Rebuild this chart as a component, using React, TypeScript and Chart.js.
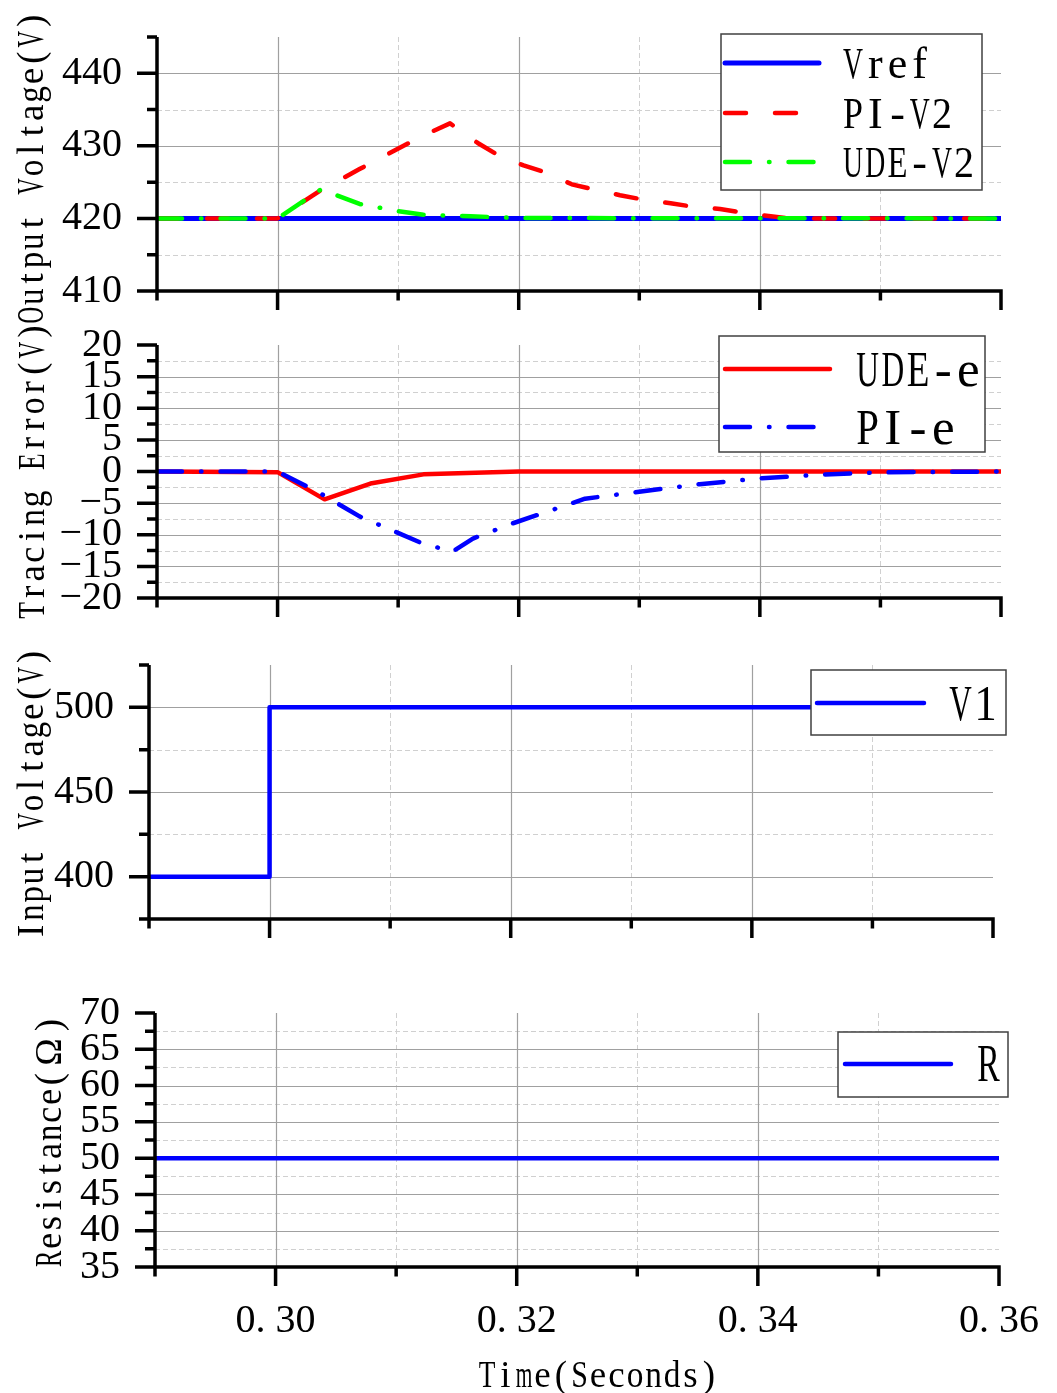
import React, { useEffect, useRef } from "react";
import { Chart, registerables } from "chart.js";

Chart.register(...registerables);

const W = 1057;
const H = 1393;

// ---------- shared time axis ----------
const xMin = 0.29;
const xMax = 0.36;
const xMajorTicks = [0.3, 0.32, 0.34, 0.36];
const xMinorTicks = [0.29, 0.31, 0.33, 0.35];
const xTickLabels = ["0. 30", "0. 32", "0. 34", "0. 36"];
const xTitle = "Time(Seconds)";

// ---------- panel 1: output voltage ----------
const vrefTime = [0.29, 0.36];
const vrefValues = [420, 420];
const piV2Time = [0.29, 0.3, 0.3035, 0.3068, 0.3118, 0.3143, 0.3166, 0.3183, 0.3204, 0.3223, 0.3244, 0.3262, 0.3284, 0.3303, 0.3326, 0.3345, 0.3367, 0.3386, 0.3409, 0.3425, 0.36];
const piV2Values = [420, 420, 423.8, 426.8, 431.2, 433.1, 430.4, 428.7, 427.3, 426.3, 424.7, 424.0, 423.2, 422.6, 422.1, 421.6, 421.3, 420.8, 420.3, 420.0, 420];
const udeV2Time = [0.29, 0.3, 0.3036, 0.3068, 0.31, 0.3121, 0.316, 0.32, 0.36];
const udeV2Values = [420, 420, 424.0, 422.0, 421.0, 420.5, 420.3, 420.05, 420];
const outMajorTicks = [410, 420, 430, 440];
const outMinorTicks = [415, 425, 435, 445];
const outTickLabels = ["410", "420", "430", "440"];

// ---------- panel 2: tracing error ----------
const udeETime = [0.29, 0.3, 0.3039, 0.3077, 0.3121, 0.32, 0.36];
const udeEValues = [0, -0.1, -4.4, -1.9, -0.45, 0, 0];
const piETime = [0.29, 0.3, 0.3035, 0.3068, 0.3118, 0.3145, 0.3162, 0.3195, 0.3229, 0.3255, 0.33, 0.335, 0.34, 0.345, 0.35, 0.355, 0.36];
const piEValues = [0, 0, -3.4, -7.1, -11.2, -12.7, -10.6, -8.2, -6.0, -4.3, -3.2, -2.0, -1.1, -0.5, -0.15, -0.05, 0];
const errMajorTicks = [-20, -15, -10, -5, 0, 5, 10, 15, 20];
const errMinorTicks = [-17.5, -12.5, -7.5, -2.5, 2.5, 7.5, 12.5, 17.5];
const errTickLabels = ["\u221220", "\u221215", "\u221210", "\u22125", "0", "5", "10", "15", "20"];

// ---------- panel 3: input voltage ----------
const v1Time = [0.29, 0.3, 0.3, 0.36];
const v1Values = [400, 400, 500, 500];
const inMajorTicks = [400, 450, 500];
const inMinorTicks = [375, 425, 475, 525];
const inTickLabels = ["400", "450", "500"];

// ---------- panel 4: resistance ----------
const rTime = [0.29, 0.36];
const rValues = [50, 50];
const resMajorTicks = [35, 40, 45, 50, 55, 60, 65, 70];
const resMinorTicks = [37.5, 42.5, 47.5, 52.5, 57.5, 62.5, 67.5];
const resTickLabels = ["35", "40", "45", "50", "55", "60", "65", "70"];

const BLUE = "#0000ff";
const RED = "#ff0000";
const GREEN = "#00ff00";
const DASH = [21, 29];
const DASHDOT = [25, 19, 0.5, 19];

type Series = {
  label: string;
  time: number[];
  values: number[];
  color: string;
  dash: number[];
  width: number;
  order: number;
};

type PanelSpec = {
  area: { left: number; top: number; right: number; bottom: number };
  yMin: number;
  yMax: number;
  yMajor: number[];
  yMinor: number[];
  yLabels: string[];
  yTitle: string;
  yTitleX: number;
  yTitleY: number;
  yTitleAdv: number;
  series: Series[];
  legend: {
    box: [number, number, number, number];
    rows: number[];
    lineX: [number, number];
    textX: number;
    font: number;
    adv: number;
  };
  showX: boolean;
};

const panels: PanelSpec[] = [
  {
    area: { left: 157, top: 37, right: 1001, bottom: 291 },
    yMin: 410,
    yMax: 445,
    yMajor: outMajorTicks,
    yMinor: outMinorTicks,
    yLabels: outTickLabels,
    yTitle: "Output Voltage(V)",
    yTitleX: 31,
    yTitleY: 168,
    yTitleAdv: 18.4,
    series: [
      { label: "Vref", time: vrefTime, values: vrefValues, color: BLUE, dash: [], width: 5, order: 2 },
      { label: "PI-V2", time: piV2Time, values: piV2Values, color: RED, dash: DASH, width: 4.5, order: 1 },
      { label: "UDE-V2", time: udeV2Time, values: udeV2Values, color: GREEN, dash: DASHDOT, width: 4.5, order: 0 },
    ],
    legend: { box: [721, 34, 982, 190], rows: [63, 113, 162], lineX: [725, 819], textX: 842, font: 44, adv: 22.2 },
    showX: false,
  },
  {
    area: { left: 157, top: 345, right: 1001, bottom: 598 },
    yMin: -20,
    yMax: 20,
    yMajor: errMajorTicks,
    yMinor: errMinorTicks,
    yLabels: errTickLabels,
    yTitle: "Tracing Error(V)",
    yTitleX: 32,
    yTitleY: 471,
    yTitleAdv: 18.6,
    series: [
      { label: "UDE-e", time: udeETime, values: udeEValues, color: RED, dash: [], width: 4.5, order: 1 },
      { label: "PI-e", time: piETime, values: piEValues, color: BLUE, dash: DASHDOT, width: 4.5, order: 0 },
    ],
    legend: { box: [719, 336, 985, 452], rows: [369, 427], lineX: [725, 830], textX: 855, font: 51, adv: 25.2 },
    showX: false,
  },
  {
    area: { left: 149, top: 665, right: 993, bottom: 919 },
    yMin: 375,
    yMax: 525,
    yMajor: inMajorTicks,
    yMinor: inMinorTicks,
    yLabels: inTickLabels,
    yTitle: "Input Voltage(V)",
    yTitleX: 31,
    yTitleY: 794,
    yTitleAdv: 18.25,
    series: [{ label: "V1", time: v1Time, values: v1Values, color: BLUE, dash: [], width: 4.5, order: 0 }],
    legend: { box: [811, 670, 1006, 735], rows: [703], lineX: [817, 924], textX: 948, font: 51, adv: 25 },
    showX: false,
  },
  {
    area: { left: 155, top: 1013, right: 999, bottom: 1267 },
    yMin: 35,
    yMax: 70,
    yMajor: resMajorTicks,
    yMinor: resMinorTicks,
    yLabels: resTickLabels,
    yTitle: "Resistance(\u03a9)",
    yTitleX: 49,
    yTitleY: 1142,
    yTitleAdv: 18,
    series: [{ label: "R", time: rTime, values: rValues, color: BLUE, dash: [], width: 4.5, order: 0 }],
    legend: { box: [838, 1032, 1008, 1097], rows: [1064], lineX: [845, 951], textX: 976, font: 53, adv: 25 },
    showX: true,
  },
];

// ---------- font handling ----------
const SERIF_CANDIDATES = ["Liberation Serif", "DejaVu Serif", "Liberation Mono", "Noto Serif CJK SC"];

function fontAvailable(name: string): boolean {
  try {
    const c = document.createElement("canvas").getContext("2d");
    if (!c) return false;
    const sample = "Wwi0.1(Seconds)mgOV";
    for (const base of ["monospace", "sans-serif"]) {
      c.font = `40px ${base}`;
      const w0 = c.measureText(sample).width;
      c.font = `40px "${name}", ${base}`;
      const w1 = c.measureText(sample).width;
      if (Math.abs(w0 - w1) > 0.5) return true;
    }
  } catch (e) {
    return false;
  }
  return false;
}

function serifFamily(): string {
  const found = SERIF_CANDIDATES.find((f) => fontAvailable(f));
  return found
    ? `"${found}", "Liberation Serif", "DejaVu Serif", serif`
    : `"Liberation Serif", "DejaVu Serif", "Liberation Mono", serif`;
}

// Draw text on a fixed-width grid (mimicking a CJK system font's half-width Latin).
function drawMono(
  ctx: CanvasRenderingContext2D,
  family: string,
  text: string,
  x: number,
  y: number,
  adv: number,
  size: number,
  rot: number,
  align: "left" | "center"
) {
  ctx.save();
  ctx.translate(x, y);
  ctx.rotate(rot);
  ctx.font = `${size}px ${family}, "Noto Sans CJK SC"`;
  ctx.fillStyle = "#000";
  ctx.textAlign = "center";
  ctx.textBaseline = "alphabetic";
  const chars = Array.from(text);
  const cells = chars.map((c) => (c.charCodeAt(0) > 0x7f ? 2 : 1) * adv);
  const total = cells.reduce((a, b) => a + b, 0);
  let cx = align === "center" ? -total / 2 : 0;
  const base = size * 0.33;
  chars.forEach((c, i) => {
    const cell = cells[i];
    if (c !== " ") {
      const w = ctx.measureText(c).width;
      const s = Math.min(1, (cell * 0.9) / Math.max(w, 0.001));
      ctx.save();
      ctx.translate(cx + cell / 2, base);
      ctx.scale(s, 1);
      ctx.fillText(c, 0, 0);
      ctx.restore();
    }
    cx += cell;
  });
  ctx.restore();
}

function makeDecor(spec: PanelSpec, family: string) {
  return {
    id: "decor",
    beforeDatasetsDraw(chart: any) {
      const { ctx, chartArea: a } = chart;
      const xs = chart.scales.x;
      const ys = chart.scales.y;
      ctx.save();
      ctx.lineWidth = 1;
      ctx.strokeStyle = "#d0d0d0";
      ctx.setLineDash([5, 3]);
      ctx.beginPath();
      spec.yMinor.forEach((v) => {
        if (v > spec.yMin && v < spec.yMax) {
          const py = Math.round(ys.getPixelForValue(v)) + 0.5;
          ctx.moveTo(a.left, py);
          ctx.lineTo(a.right, py);
        }
      });
      xMinorTicks.forEach((v) => {
        if (v > xMin + 1e-9 && v < xMax - 1e-9) {
          const px = Math.round(xs.getPixelForValue(v)) + 0.5;
          ctx.moveTo(px, a.top);
          ctx.lineTo(px, a.bottom);
        }
      });
      ctx.stroke();
      ctx.setLineDash([]);
      ctx.strokeStyle = "#a0a0a0";
      ctx.lineWidth = 1.2;
      ctx.beginPath();
      spec.yMajor.forEach((v) => {
        if (v > spec.yMin && v < spec.yMax) {
          const py = Math.round(ys.getPixelForValue(v)) + 0.5;
          ctx.moveTo(a.left, py);
          ctx.lineTo(a.right, py);
        }
      });
      xMajorTicks.forEach((v) => {
        if (v > xMin + 1e-9 && v < xMax - 1e-9) {
          const px = Math.round(xs.getPixelForValue(v)) + 0.5;
          ctx.moveTo(px, a.top);
          ctx.lineTo(px, a.bottom);
        }
      });
      ctx.stroke();
      ctx.restore();
    },
    afterDatasetsDraw(chart: any) {
      const { ctx, chartArea: a } = chart;
      const xs = chart.scales.x;
      const ys = chart.scales.y;
      const lw = 3.5;
      ctx.save();
      ctx.strokeStyle = "#000";
      ctx.lineWidth = lw;
      ctx.lineCap = "butt";
      ctx.setLineDash([]);
      ctx.beginPath();
      ctx.moveTo(a.left, a.top);
      ctx.lineTo(a.left, a.bottom + lw / 2);
      ctx.moveTo(a.left - lw / 2, a.bottom);
      ctx.lineTo(a.right + lw / 2, a.bottom);
      spec.yMajor.forEach((v) => {
        const py = ys.getPixelForValue(v);
        ctx.moveTo(a.left - 20, py);
        ctx.lineTo(a.left, py);
      });
      spec.yMinor.forEach((v) => {
        const py = ys.getPixelForValue(v);
        ctx.moveTo(a.left - 10, py);
        ctx.lineTo(a.left, py);
      });
      xMajorTicks.forEach((v) => {
        const px = xs.getPixelForValue(v);
        ctx.moveTo(px, a.bottom);
        ctx.lineTo(px, a.bottom + 19);
      });
      xMinorTicks.forEach((v) => {
        const px = xs.getPixelForValue(v);
        ctx.moveTo(px, a.bottom);
        ctx.lineTo(px, a.bottom + 9.5);
      });
      ctx.stroke();
      ctx.restore();
    },
    afterDraw(chart: any) {
      const { ctx } = chart;
      drawMono(ctx, family, spec.yTitle, spec.yTitleX, spec.yTitleY, spec.yTitleAdv, 37, -Math.PI / 2, "center");
      if (spec.showX) drawMono(ctx, family, xTitle, 598, 1375, 18.5, 37, 0, "center");
      const L = spec.legend;
      const [l, t, r, b] = L.box;
      ctx.save();
      ctx.fillStyle = "#fff";
      ctx.fillRect(l, t, r - l, b - t);
      ctx.strokeStyle = "#404040";
      ctx.lineWidth = 1.5;
      ctx.strokeRect(l, t, r - l, b - t);
      spec.series.forEach((s, i) => {
        const y = L.rows[i];
        ctx.beginPath();
        ctx.setLineDash(s.dash);
        ctx.lineCap = "round";
        ctx.strokeStyle = s.color;
        ctx.lineWidth = s.width;
        ctx.moveTo(L.lineX[0], y);
        ctx.lineTo(L.lineX[1], y);
        ctx.stroke();
        ctx.setLineDash([]);
        drawMono(ctx, family, s.label, L.textX, y, L.adv, L.font, 0, "left");
      });
      ctx.restore();
    },
  };
}

function zeroPadding(s: any) {
  s.paddingLeft = 0;
  s.paddingRight = 0;
  s.paddingTop = 0;
  s.paddingBottom = 0;
}

function buildConfig(spec: PanelSpec, family: string): any {
  const a = spec.area;
  const xAll = [...xMinorTicks, ...xMajorTicks].sort((p, q) => p - q);
  const tickFont = { family, size: 40 };
  return {
    type: "line",
    data: {
      datasets: spec.series.map((s) => ({
        label: s.label,
        data: s.time.map((t, i) => ({ x: t, y: s.values[i] })),
        borderColor: s.color,
        backgroundColor: s.color,
        borderWidth: s.width,
        borderDash: s.dash,
        borderCapStyle: s.dash.length ? "round" : "butt",
        borderJoinStyle: "round",
        pointRadius: 0,
        pointHoverRadius: 0,
        fill: false,
        tension: 0,
        order: s.order,
      })),
    },
    options: {
      responsive: false,
      maintainAspectRatio: false,
      animation: false,
      devicePixelRatio: 1,
      events: [],
      layout: { padding: { left: 0, top: a.top, right: W - a.right, bottom: 0 } },
      plugins: {
        legend: { display: false },
        tooltip: { enabled: false },
        title: { display: false },
      },
      scales: {
        x: {
          type: "linear",
          position: "bottom",
          min: xMin,
          max: xMax,
          grid: { display: false, drawTicks: false },
          border: { display: false },
          afterBuildTicks: (s: any) => {
            s.ticks = xAll.map((v) => ({ value: v }));
          },
          ticks: {
            display: spec.showX,
            autoSkip: false,
            maxRotation: 0,
            minRotation: 0,
            padding: 30,
            color: "#000",
            font: tickFont,
            callback: (v: number) => {
              const idx = xMajorTicks.findIndex((m) => Math.abs(m - v) < 1e-9);
              return idx >= 0 ? xTickLabels[idx] : "";
            },
          },
          afterFit: (s: any) => {
            s.height = H - a.bottom;
            zeroPadding(s);
          },
        },
        y: {
          type: "linear",
          position: "left",
          min: spec.yMin,
          max: spec.yMax,
          grid: { display: false, drawTicks: false },
          border: { display: false },
          afterBuildTicks: (s: any) => {
            s.ticks = spec.yMajor.map((v) => ({ value: v }));
          },
          ticks: {
            autoSkip: false,
            padding: 35,
            color: "#000",
            font: tickFont,
            callback: (v: number) => {
              const idx = spec.yMajor.findIndex((m) => Math.abs(m - v) < 1e-9);
              return idx >= 0 ? spec.yLabels[idx] : "";
            },
          },
          afterFit: (s: any) => {
            s.width = a.left;
            zeroPadding(s);
          },
        },
      },
    },
    plugins: [makeDecor(spec, family)],
  };
}

function PanelChart({ spec }: { spec: PanelSpec }) {
  const ref = useRef<HTMLCanvasElement>(null);
  useEffect(() => {
    if (!ref.current) return;
    let chart: Chart | null = null;
    let alive = true;
    const create = () => {
      if (!alive || !ref.current) return;
      if (chart) chart.destroy();
      chart = new Chart(ref.current, buildConfig(spec, serifFamily()));
    };
    create();
    const timers: number[] = [];
    const fonts = (document as any).fonts;
    if (fonts && fonts.ready) fonts.ready.then(() => create());
    timers.push(window.setTimeout(create, 150));
    timers.push(window.setTimeout(create, 600));
    return () => {
      alive = false;
      timers.forEach((t) => clearTimeout(t));
      if (chart) chart.destroy();
    };
  }, [spec]);
  return (
    <canvas
      ref={ref}
      width={W}
      height={H}
      style={{ position: "absolute", left: 0, top: 0, width: W, height: H }}
    />
  );
}

export default function App() {
  return (
    <div
      style={{
        position: "absolute",
        left: 0,
        top: 0,
        width: W,
        height: H,
        background: "#fff",
        overflow: "hidden",
      }}
    >
      {/* invisible font warm-up so the canvas can use the installed families */}
      <div style={{ position: "absolute", left: 0, top: 0, opacity: 0, pointerEvents: "none", fontSize: 20 }}>
        {SERIF_CANDIDATES.map((f) => (
          <span key={f} style={{ fontFamily: `"${f}"` }}>
            Time 0.30 Ω
          </span>
        ))}
      </div>
      {panels.map((p, i) => (
        <PanelChart key={i} spec={p} />
      ))}
    </div>
  );
}
